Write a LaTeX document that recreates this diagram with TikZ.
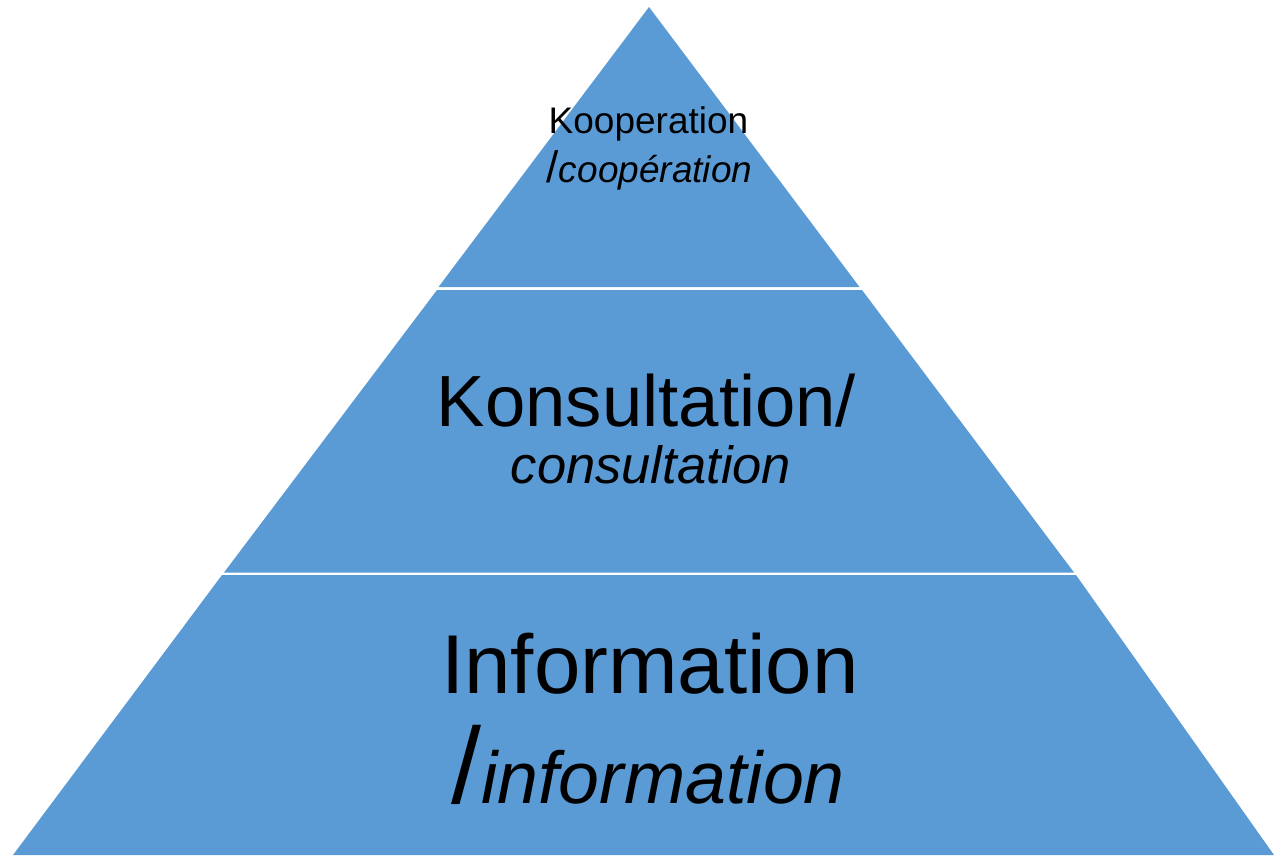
\documentclass[tikz,border=0pt]{standalone}
\usepackage{fontspec}
\setmainfont{Liberation Sans}
\definecolor{pyrblue}{HTML}{5B9BD5}
\begin{document}
\begin{tikzpicture}[x=1pt,y=-1pt,
  band/.style={fill=pyrblue,draw=none},
  lbl/.style={anchor=base,inner sep=0pt,text=black}]
\useasboundingbox (0,0) rectangle (1274,855);
\clip (0,0) rectangle (1274,855);
% bands
\fill[band] (649,7) -- (859.5,287) -- (438.5,287) -- cycle;
\fill[band] (437,290) -- (862,290) -- (1074,572.5) -- (224,572.5) -- cycle;
\fill[band] (222,575) -- (1076,575) -- (1274,855) -- (13,855) -- cycle;
% labels
\node[lbl] (k1) at (648.5,133) {\fontsize{37}{40}\selectfont Kooperation};
\node[lbl] (k2) at (649.5,182) {\fontsize{44}{40}\selectfont /\fontsize{37}{40}\selectfont\itshape coopération};
\node[lbl] (c1) at (646.5,426) {\fontsize{72.5}{80}\selectfont Konsultation/};
\node[lbl] (c2) at (651,483) {\fontsize{52.5}{60}\selectfont\itshape consultation};
\node[lbl] (i1) at (650,693) {\fontsize{83.5}{90}\selectfont Information};
\node[lbl] (i2) at (648,803) {\fontsize{108}{110}\selectfont /\fontsize{73.5}{80}\selectfont\itshape information};
\end{tikzpicture}
\end{document}
